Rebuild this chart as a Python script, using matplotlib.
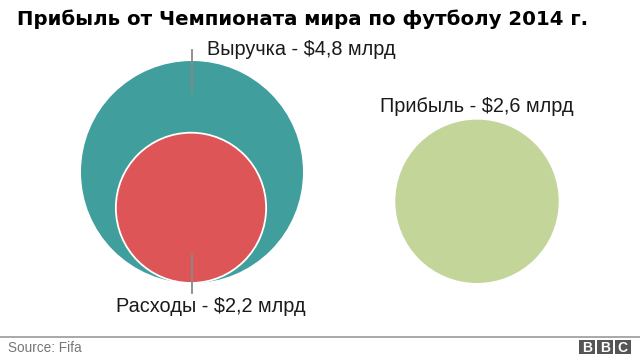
import numpy as np
import matplotlib.pyplot as plt
from matplotlib.patches import Circle, Rectangle

plt.rcParams['font.family'] = ['Liberation Sans', 'DejaVu Sans']

# data
labels = ['Выручка', 'Расходы', 'Прибыль']
values = [4.8, 2.2, 2.6]          # $ bn
value_text = ['$4,8 млрд', '$2,2 млрд', '$2,6 млрд']
colors = ['#409e9d', '#de5557', '#c4d59a']

title = 'Прибыль от Чемпионата мира по футболу 2014 г.'
source = 'Source: Fifa'

W, H = 640, 357
fig = plt.figure(figsize=(W / 100, H / 100), dpi=100)
ax = fig.add_axes([0, 0, 1, 1])
ax.set_xlim(0, W)
ax.set_ylim(H, 0)
ax.axis('off')

# circle area proportional to value, all resting on a common baseline
base = 283
rmax = 111
radii = [rmax * np.sqrt(v / max(values)) for v in values]
cx = [192, 191, 477]

for i in range(3):
    cy = base - radii[i]
    ec = 'white' if i == 1 else 'none'
    ax.add_patch(Circle((cx[i], cy), radii[i], fc=colors[i], ec=ec, lw=1.3, zorder=2 + i))

# leader lines
ax.plot([192, 192], [50, 92], color='#888888', lw=1.3, zorder=6)
ax.plot([192, 192], [255, 293], color='#888888', lw=1.3, zorder=6)

fs = 14.3
ax.text(207, 55, f'{labels[0]} - {value_text[0]}', fontsize=fs, va='baseline', ha='left', color='#1a1a1a')
ax.text(116, 312, f'{labels[1]} - {value_text[1]}', fontsize=fs, va='baseline', ha='left', color='#1a1a1a')
ax.text(380, 112, f'{labels[2]} - {value_text[2]}', fontsize=fs, va='baseline', ha='left', color='#1a1a1a')

ax.text(17, 25, title, fontsize=14.2, fontweight='bold', family='DejaVu Sans',
        va='baseline', ha='left', color='black')

# footer
ax.plot([0, W], [337, 337], color='#999999', lw=1.2)
ax.text(8, 352, source, fontsize=9.8, color='#777777', va='baseline', ha='left')
for j, ch in enumerate('BBC'):
    x0 = 579 + j * 18
    ax.add_patch(Rectangle((x0, 340), 15.5, 14, fc='#555555', ec='none'))
    ax.text(x0 + 7.75, 351.5, ch, fontsize=10, fontweight='bold', color='white', ha='center', va='baseline')

fig.savefig('out.png', dpi=100)
